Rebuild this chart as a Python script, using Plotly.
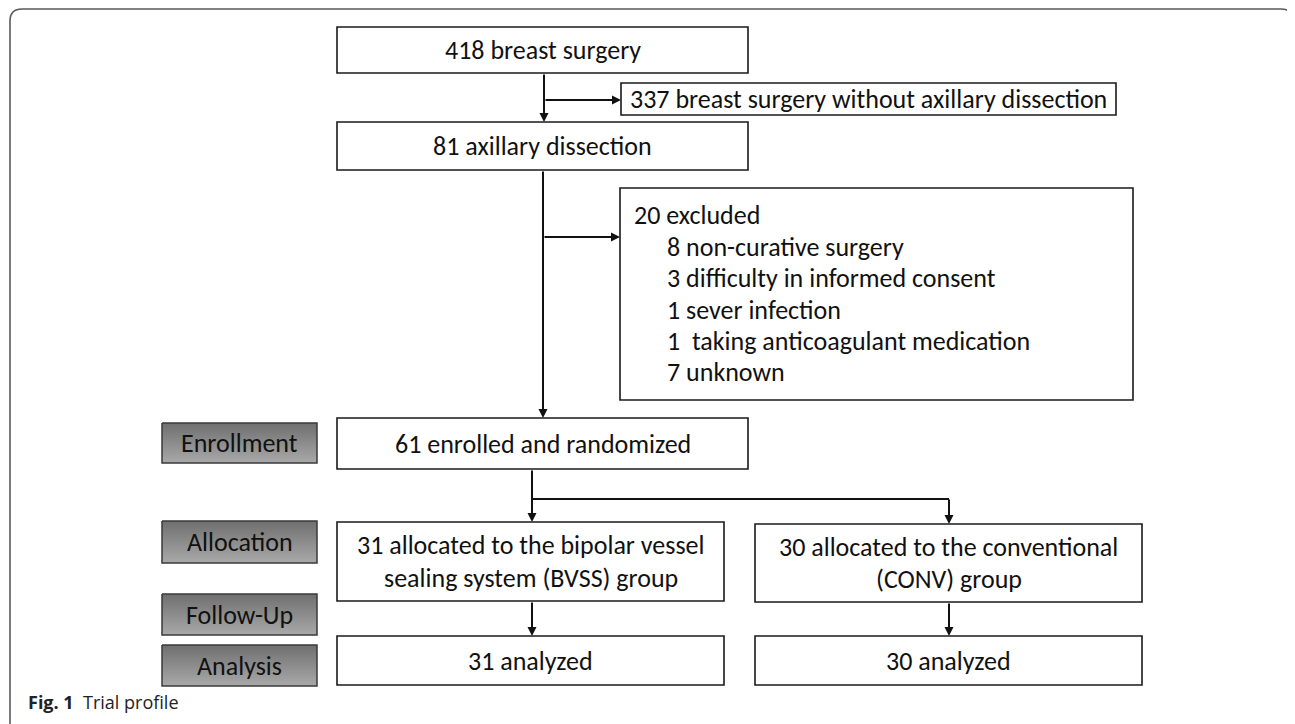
import plotly.graph_objects as go

# ---- content ----
box_texts = {
    "total": "418 breast surgery",
    "no_ax": "337 breast surgery without axillary dissection",
    "axillary": "81 axillary dissection",
    "enrolled": "61 enrolled and randomized",
    "bvss": ["31 allocated to the bipolar vessel", "sealing system (BVSS) group"],
    "conv": ["30 allocated to the conventional", "(CONV) group"],
    "an_bvss": "31 analyzed",
    "an_conv": "30 analyzed",
}
excluded_head = "20 excluded"
excluded_counts = [8, 3, 1, 1, 7]
excluded_reasons = ["non-curative surgery", "difficulty in informed consent",
                    "sever infection", " taking anticoagulant medication", "unknown"]
stage_labels = ["Enrollment", "Allocation", "Follow-Up", "Analysis"]
caption_bold = "Fig. 1"
caption_text = "Trial profile"

# ---- layout geometry (page pixels, y down) ----
boxes = {
    "total": (337, 27, 748, 73),
    "no_ax": (621, 83, 1116, 115),
    "axillary": (337, 122, 748, 170),
    "excluded": (620, 188, 1133, 400),
    "enrolled": (337, 418, 748, 469),
    "bvss": (337, 522, 724, 601),
    "conv": (755, 524, 1142, 602),
    "an_bvss": (337, 636, 724, 685),
    "an_conv": (755, 636, 1142, 685),
}
stage_boxes = [(162, 423, 317, 463), (162, 521, 317, 563),
               (162, 594, 317, 635), (162, 645, 317, 686)]

FONT = "Carlito, Lato, sans-serif"
FS = 26
OFF = 8  # page body margin

fig = go.Figure()
shapes = []
annotations = []

# outer rounded frame (open at bottom)
r = 12
L, T, R, B = 10, 9, 1293, 740
frame_path = (f"M {L},{B} L {L},{T+r} Q {L},{T} {L+r},{T} L {R-r},{T} "
              f"Q {R},{T} {R},{T+r} L {R},{B}")
shapes.append(dict(type="path", path=frame_path, xref="x", yref="y",
                   line=dict(color="#5a5a5a", width=1.6)))

# stage label boxes with vertical gradient
for (x0, y0, x1, y1), lab in zip(stage_boxes, stage_labels):
    fig.add_trace(go.Scatter(
        x=[x0, x1, x1, x0, x0], y=[y0, y0, y1, y1, y0], mode="lines",
        fill="toself",
        fillgradient=dict(type="vertical",
                          colorscale=[[0, "#a9a9a9"], [1, "#6f6f6f"]]),
        line=dict(color="#3a3a3a", width=1.5), hoverinfo="skip",
        showlegend=False))
    annotations.append(dict(x=(x0 + x1) / 2, y=(y0 + y1) / 2, text=lab,
                            showarrow=False, xref="x", yref="y",
                            font=dict(family=FONT, size=FS, color="#111"),
                            xanchor="center", yanchor="middle"))

# white boxes
for key, (x0, y0, x1, y1) in boxes.items():
    shapes.append(dict(type="rect", x0=x0, y0=y0, x1=x1, y1=y1, xref="x", yref="y",
                       fillcolor="white", line=dict(color="#1a1a1a", width=1.6),
                       layer="below"))

def center_text(key, text, dy=0):
    x0, y0, x1, y1 = boxes[key]
    annotations.append(dict(x=(x0 + x1) / 2, y=(y0 + y1) / 2 + dy, text=text,
                            showarrow=False, xref="x", yref="y",
                            font=dict(family=FONT, size=FS, color="#111"),
                            xanchor="center", yanchor="middle"))

for key in ["total", "no_ax", "axillary", "enrolled", "an_bvss", "an_conv"]:
    center_text(key, box_texts[key])
center_text("bvss", box_texts["bvss"][0], -17)
center_text("bvss", box_texts["bvss"][1], 16)
center_text("conv", box_texts["conv"][0], -16)
center_text("conv", box_texts["conv"][1], 16)

# excluded box text
ex0, ey0, ex1, ey1 = boxes["excluded"]
annotations.append(dict(x=ex0 + 12, y=ey0 + 27, text=excluded_head, showarrow=False,
                        xref="x", yref="y", xanchor="left", yanchor="middle",
                        font=dict(family=FONT, size=FS, color="#111")))
for i, (n, reason) in enumerate(zip(excluded_counts, excluded_reasons)):
    annotations.append(dict(x=ex0 + 45, y=ey0 + 59 + i * 31.3,
                            text=f"{n} {reason}", showarrow=False,
                            xref="x", yref="y", xanchor="left", yanchor="middle",
                            font=dict(family=FONT, size=FS, color="#111")))

def line(x0, y0, x1, y1):
    shapes.append(dict(type="line", x0=x0, y0=y0, x1=x1, y1=y1, xref="x", yref="y",
                       line=dict(color="#111", width=2)))

def arrow(x0, y0, x1, y1):
    annotations.append(dict(x=x1, y=y1, ax=x0, ay=y0, xref="x", yref="y",
                            axref="x", ayref="y", showarrow=True, text="",
                            arrowhead=2, arrowsize=0.9, arrowwidth=2,
                            arrowcolor="#111", standoff=0, startstandoff=0))

arrow(544, 73, 544, 122)
arrow(544, 100, 621, 100)
arrow(543, 170, 543, 418)
arrow(543, 237, 620, 237)
arrow(532, 469, 532, 522)
line(532, 499, 949, 499)
arrow(949, 498, 949, 524)
arrow(532, 601, 532, 636)
arrow(949, 602, 949, 636)

# caption
annotations.append(dict(x=26, y=702, xref="x", yref="y", showarrow=False,
                        xanchor="left", yanchor="middle",
                        text=f"<b>{caption_bold}</b>  {caption_text}",
                        font=dict(family="Open Sans, sans-serif", size=18, color="#222")))

fig.update_layout(
    width=1295 - OFF, height=724 - OFF, margin=dict(l=0, r=0, t=0, b=0),
    paper_bgcolor="white", plot_bgcolor="white",
    xaxis=dict(range=[OFF, 1295], visible=False, fixedrange=True),
    yaxis=dict(range=[724, OFF], visible=False, fixedrange=True),
    shapes=shapes, annotations=annotations, showlegend=False,
)

fig.write_html("out.html")
